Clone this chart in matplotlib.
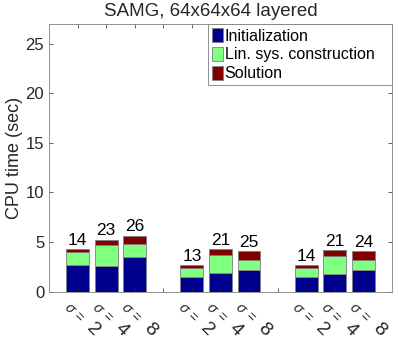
import numpy as np
import matplotlib
matplotlib.use('Agg')
from matplotlib import pyplot as plt
from matplotlib.transforms import ScaledTranslation

plt.rcParams['font.family'] = ['Liberation Sans', 'DejaVu Sans']
plt.rcParams['mathtext.fontset'] = 'custom'
plt.rcParams['mathtext.rm'] = 'Liberation Sans'
plt.rcParams['mathtext.it'] = 'Liberation Sans:italic'

#~~ data
positions = [1, 2, 3, 5, 6, 7, 9, 10, 11]
sigma_values = ['2', '4', '8'] * 3
init_time = [2.71, 2.61, 3.52, 1.46, 1.84, 2.20, 1.46, 1.80, 2.20]
linsys_time = [1.25, 2.05, 1.28, 0.91, 1.88, 1.02, 0.91, 1.82, 1.02]
solve_time = [0.30, 0.58, 0.84, 0.27, 0.54, 0.83, 0.31, 0.54, 0.83]
iterations = [14, 23, 26, 13, 21, 25, 14, 21, 24]
series_names = ['Initialization', 'Lin. sys. construction', 'Solution']

c_init = '#00008f'
c_lin = '#80ff80'
c_sol = '#800000'
edge = '#808080'
axcol = '#262626'

fig = plt.figure(figsize=(3.99, 3.45), dpi=100)
ax = fig.add_axes([0.123, 0.155, 0.859, 0.775])

init_arr = np.array(init_time)
lin_arr = np.array(linsys_time)
sol_arr = np.array(solve_time)

ax.bar(positions, init_arr, width=0.8, color=c_init, edgecolor=edge, linewidth=0.6, label=series_names[0])
ax.bar(positions, lin_arr, width=0.8, bottom=init_arr, color=c_lin, edgecolor=edge, linewidth=0.6, label=series_names[1])
ax.bar(positions, sol_arr, width=0.8, bottom=init_arr + lin_arr, color=c_sol, edgecolor=edge, linewidth=0.6, label=series_names[2])

#~~ iteration counts above the bars
totals = init_arr + lin_arr + sol_arr
for p, t, n in zip(positions, totals, iterations):
    ax.text(p, t + 0.15, str(n), ha='center', va='bottom', fontsize=12.5, color='black')

ax.set_xlim(0, 12)
ax.set_ylim(0, 27)
ax.set_yticks([0, 5, 10, 15, 20, 25])
ax.set_xticks(range(1, 12))
ax.set_xticklabels([''] * 11)
ax.tick_params(axis='both', direction='in', top=True, right=True, length=3, width=0.5,
               colors=axcol, labelsize=12, labelcolor=axcol)
for sp in ax.spines.values():
    sp.set_color('#808080')
    sp.set_linewidth(0.6)

#~~ rotated sigma labels: small "sigma =" and a larger digit (offsets in px below the axis)
xtr = ax.get_xaxis_transform()
parts = [('$\\sigma$', 10, -8, 17), ('=', 10, 0.5, 26)]
for p, s in zip(positions, sigma_values):
    for txt, fs, dx, dy in parts + [(s, 14, 15.5, 38.5)]:
        tr = xtr + ScaledTranslation(dx / 100., -dy / 100., fig.dpi_scale_trans)
        ax.text(p, 0, txt, transform=tr, rotation=-45, rotation_mode='anchor',
                ha='center', va='center', fontsize=fs, color=axcol, clip_on=False)

ax.set_ylabel('CPU time (sec)', fontsize=13, color=axcol, labelpad=2)
ax.set_title('SAMG, 64x64x64 layered', fontsize=13.5, color=axcol, pad=6, x=0.471)

leg = ax.legend(loc='upper left', bbox_to_anchor=(0.4636, 0, 0.5364, 1), mode='expand',
                borderaxespad=0, fontsize=11.5, handlelength=0.7, handleheight=0.95,
                handletextpad=0.1, labelspacing=0.22, borderpad=0.25, fancybox=False, framealpha=1)
leg.get_frame().set_edgecolor('#808080')
leg.get_frame().set_linewidth(0.6)

plt.savefig('out.png', dpi=100)
plt.close()
